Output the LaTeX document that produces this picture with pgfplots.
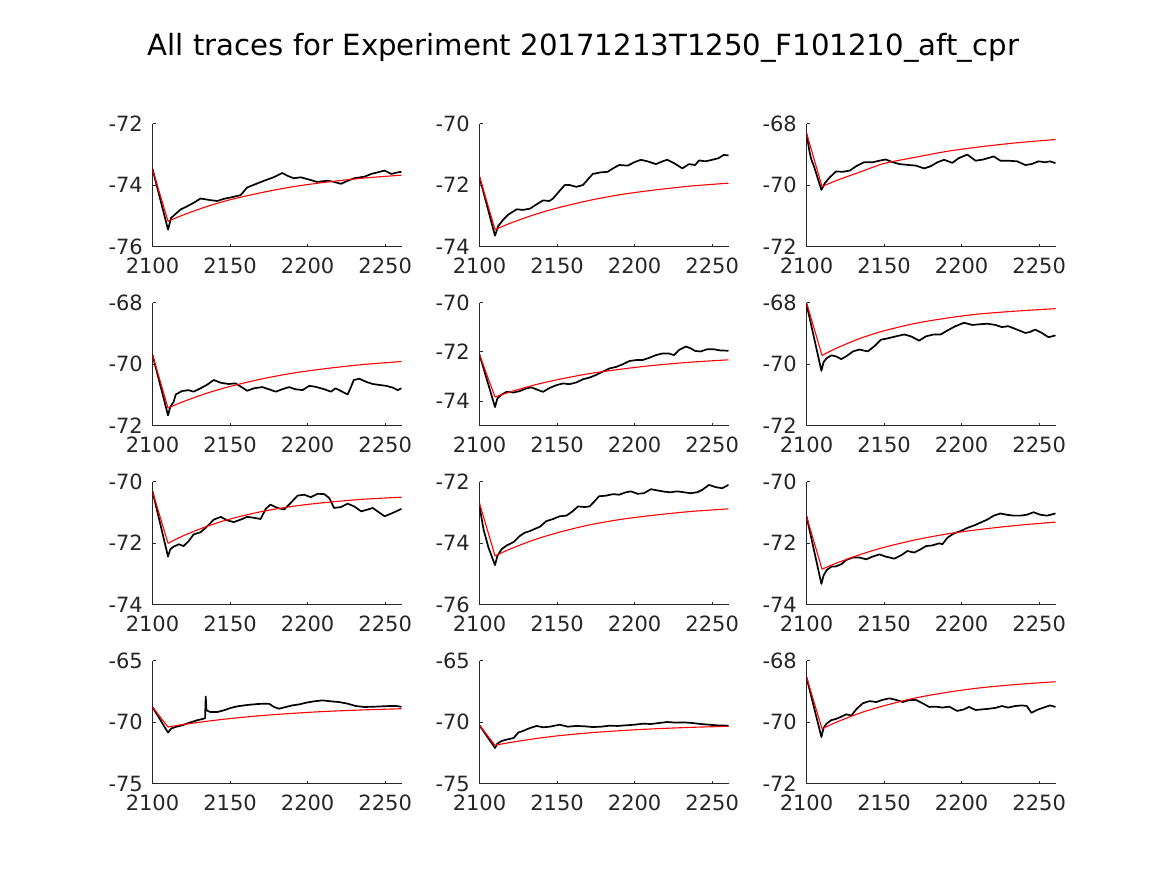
\documentclass[border=0pt]{standalone}
\usepackage{pgfplots}
\pgfplotsset{compat=1.18}
\usepackage{fontspec}
\setmainfont{DejaVu Sans}
\definecolor{axgray}{rgb}{0.15,0.15,0.15}
\pgfplotsset{
  panel/.style={
    scale only axis, width=124.5pt, height=61.5pt, anchor=south west,
    xmin=2100, xmax=2260.5,
    axis x line*=bottom, axis y line*=left,
    axis line style={-, color=axgray, line width=0.4pt},
    xtick={2100,2150,2200,2250},
    tick align=inside, major tick length=1.5pt,
    tick style={color=axgray, line width=0.4pt},
    ticklabel style={font=\fontsize{10.5}{12}\selectfont, text=axgray},
    xticklabel style={yshift=-2.0pt},
    yticklabel style={xshift=-1.3pt},
    /pgf/number format/assume math mode=true,
    /pgf/number format/1000 sep={},
  },
  trace/.style={black, line width=0.85pt, line join=round},
  fit/.style={red, line width=0.55pt},
  fitc/.style={red, line width=0.55pt, smooth},
}
\begin{document}
\begin{tikzpicture}
\path[use as bounding box] (0,0) rectangle (583.5pt,437.5pt);
\node[anchor=base, font=\fontsize{14.6}{17}\selectfont, text=black] at (291.75pt,409.5pt) {All traces for Experiment 20171213T1250\_F101210\_aft\_cpr};

% ---------- Row 1 ----------
\begin{axis}[panel, at={(76.25pt,314.25pt)}, ymin=-76, ymax=-72, ytick={-76,-74,-72}]
\addplot[trace] coordinates {(2100,-73.48) (2110,-75.45) (2112,-75.07) (2114,-74.98) (2118,-74.80) (2122,-74.70) (2126.5,-74.58) (2131,-74.44) (2137,-74.49) (2141.7,-74.52) (2146,-74.45) (2150,-74.41) (2156.8,-74.33) (2161,-74.08) (2165,-74.00) (2172,-73.86) (2178,-73.75) (2183.7,-73.61) (2187,-73.70) (2191,-73.78) (2195.6,-73.75) (2200,-73.81) (2206,-73.90) (2213,-73.86) (2217,-73.90) (2221.5,-73.96) (2226,-73.86) (2230,-73.78) (2236.6,-73.73) (2241,-73.64) (2245,-73.59) (2249.6,-73.53) (2254,-73.64) (2258,-73.59) (2260.5,-73.57)};
\addplot[fit] coordinates {(2100,-73.48) (2110,-75.18)};
\addplot[fitc] coordinates {(2110,-75.18) (2120,-74.97) (2135,-74.70) (2150,-74.48) (2170,-74.25) (2190,-74.06) (2210,-73.92) (2235,-73.78) (2260.5,-73.68)};
\end{axis}

\begin{axis}[panel, at={(239.75pt,314.25pt)}, ymin=-74, ymax=-70, ytick={-74,-72,-70}]
\addplot[trace] coordinates {(2100,-71.75) (2110,-73.65) (2112,-73.34) (2115.4,-73.12) (2118.6,-72.96) (2124,-72.79) (2128,-72.81) (2132.5,-72.77) (2136.8,-72.63) (2141,-72.50) (2145,-72.52) (2147.4,-72.44) (2150.6,-72.25) (2155,-72.00) (2158,-72.00) (2162.4,-72.06) (2166.7,-72.00) (2170,-71.81) (2173,-71.64) (2178,-71.59) (2182.7,-71.57) (2186,-71.46) (2190,-71.35) (2195.5,-71.37) (2199.8,-71.26) (2204,-71.18) (2208.3,-71.23) (2213.7,-71.32) (2218,-71.23) (2221,-71.18) (2225.4,-71.29) (2230.8,-71.46) (2235,-71.32) (2239,-71.35) (2241.5,-71.20) (2245.7,-71.23) (2250,-71.18) (2254,-71.13) (2257.5,-71.02) (2260.5,-71.04)};
\addplot[fit] coordinates {(2100,-71.72) (2110,-73.45)};
\addplot[fitc] coordinates {(2110,-73.45) (2120,-73.24) (2135,-72.97) (2150,-72.75) (2170,-72.51) (2190,-72.32) (2210,-72.18) (2235,-72.04) (2260.5,-71.94)};
\end{axis}

\begin{axis}[panel, at={(403.25pt,314.25pt)}, ymin=-72, ymax=-68, ytick={-72,-70,-68}]
\addplot[trace] coordinates {(2100,-68.33) (2102,-68.93) (2103,-69.15) (2105,-69.42) (2109.6,-70.16) (2111.8,-69.94) (2115,-69.75) (2119,-69.56) (2123.5,-69.57) (2128,-69.53) (2132,-69.39) (2137,-69.26) (2142.7,-69.26) (2147,-69.21) (2151,-69.17) (2155.6,-69.26) (2160,-69.32) (2166,-69.35) (2170.5,-69.37) (2175.9,-69.46) (2180,-69.39) (2184.4,-69.26) (2188.7,-69.18) (2194,-69.28) (2198,-69.13) (2203.6,-69.01) (2209,-69.21) (2214,-69.17) (2220.7,-69.07) (2225,-69.21) (2230,-69.21) (2235.7,-69.23) (2241,-69.35) (2245,-69.32) (2249.6,-69.23) (2253.8,-69.26) (2257,-69.23) (2260.5,-69.29)};
\addplot[fit] coordinates {(2100,-68.31) (2110,-70.05)};
\addplot[fitc] coordinates {(2110,-70.05) (2120,-69.84) (2135,-69.57) (2150,-69.30) (2170,-69.10) (2190,-68.91) (2210,-68.77) (2235,-68.63) (2260.5,-68.52)};
\end{axis}

% ---------- Row 2 ----------
\begin{axis}[panel, at={(76.25pt,224.75pt)}, ymin=-72, ymax=-68, ytick={-72,-70,-68}]
\addplot[trace] coordinates {(2100,-69.70) (2110,-71.67) (2111.4,-71.40) (2113.6,-71.23) (2115,-70.99) (2119,-70.88) (2123.3,-70.85) (2126.5,-70.90) (2131,-70.79) (2135,-70.68) (2139.5,-70.52) (2144,-70.61) (2149,-70.65) (2153.5,-70.63) (2158,-70.77) (2161,-70.87) (2165.4,-70.79) (2170.8,-70.75) (2175,-70.82) (2179.4,-70.90) (2183.7,-70.82) (2188,-70.75) (2192,-70.82) (2196.7,-70.85) (2201,-70.71) (2205,-70.74) (2210.7,-70.82) (2215,-70.90) (2218,-70.79) (2221.5,-70.88) (2225.8,-70.99) (2228,-70.74) (2229.7,-70.52) (2233.4,-70.48) (2237.7,-70.58) (2242,-70.65) (2246,-70.68) (2250.6,-70.71) (2255,-70.77) (2258,-70.85) (2260.5,-70.79)};
\addplot[fit] coordinates {(2100,-69.70) (2110,-71.43)};
\addplot[fitc] coordinates {(2110,-71.43) (2120,-71.22) (2135,-70.95) (2150,-70.73) (2170,-70.49) (2190,-70.30) (2210,-70.16) (2235,-70.02) (2260.5,-69.92)};
\end{axis}

\begin{axis}[panel, at={(239.75pt,224.75pt)}, ymin=-75, ymax=-70, ytick={-74,-72,-70}]
\addplot[trace] coordinates {(2100,-72.12) (2110,-74.25) (2111.5,-73.90) (2114.3,-73.74) (2117.5,-73.63) (2122,-73.66) (2126,-73.60) (2130.3,-73.49) (2133.5,-73.45) (2137.8,-73.56) (2141,-73.63) (2145.3,-73.47) (2149.6,-73.36) (2153.8,-73.29) (2158,-73.32) (2162.4,-73.25) (2166.7,-73.12) (2171,-73.05) (2175,-72.95) (2179.5,-72.81) (2183.8,-72.68) (2188,-72.62) (2192,-72.52) (2196.6,-72.38) (2200.9,-72.34) (2205,-72.34) (2209.4,-72.25) (2213.7,-72.14) (2218,-72.07) (2222,-72.07) (2225.4,-72.14) (2228.6,-71.93) (2233,-71.79) (2236,-71.86) (2239,-71.97) (2242.5,-71.99) (2246.8,-71.90) (2251,-71.90) (2255.3,-71.95) (2260.5,-71.96)};
\addplot[fit] coordinates {(2100,-72.12) (2110,-73.84)};
\addplot[fitc] coordinates {(2110,-73.84) (2120,-73.63) (2135,-73.36) (2150,-73.14) (2170,-72.90) (2190,-72.72) (2210,-72.57) (2235,-72.43) (2260.5,-72.33)};
\end{axis}

\begin{axis}[panel, at={(403.25pt,224.75pt)}, ymin=-72, ymax=-68, ytick={-72,-70,-68}]
\addplot[trace] coordinates {(2100,-68.05) (2109.6,-70.22) (2111,-69.94) (2113,-69.81) (2116,-69.72) (2119,-69.75) (2122.4,-69.84) (2125.6,-69.75) (2130,-69.59) (2134,-69.53) (2139.5,-69.59) (2143.8,-69.42) (2148,-69.21) (2152,-69.17) (2157.7,-69.10) (2163,-69.04) (2167.3,-69.10) (2172.6,-69.24) (2177,-69.10) (2182,-69.04) (2186.5,-69.04) (2190.8,-68.91) (2196,-68.77) (2201.5,-68.66) (2207,-68.73) (2211,-68.71) (2216.5,-68.69) (2221.8,-68.73) (2226,-68.80) (2230,-68.77) (2235.7,-68.88) (2241,-68.99) (2244,-68.96) (2247.4,-68.88) (2251.7,-68.99) (2256,-69.13) (2260.5,-69.07)};
\addplot[fit] coordinates {(2100,-68.00) (2110,-69.72)};
\addplot[fitc] coordinates {(2110,-69.72) (2120,-69.47) (2135,-69.16) (2150,-68.92) (2170,-68.68) (2190,-68.51) (2210,-68.38) (2235,-68.28) (2260.5,-68.20)};
\end{axis}

% ---------- Row 3 ----------
\begin{axis}[panel, at={(76.25pt,135.25pt)}, ymin=-74, ymax=-70, ytick={-74,-72,-70}]
\addplot[trace] coordinates {(2100,-70.32) (2110,-72.44) (2111.5,-72.20) (2113.6,-72.12) (2117,-72.04) (2120,-72.10) (2123.3,-71.94) (2126.5,-71.72) (2131,-71.65) (2135,-71.47) (2139.5,-71.24) (2144,-71.15) (2148,-71.26) (2152.4,-71.32) (2156.8,-71.24) (2161,-71.15) (2165.4,-71.18) (2169.7,-71.22) (2173,-70.89) (2176,-70.75) (2180.5,-70.86) (2184.8,-70.91) (2189,-70.70) (2193.5,-70.46) (2197.8,-70.43) (2202,-70.51) (2206.4,-70.40) (2210.7,-70.41) (2214,-70.54) (2217,-70.86) (2221.5,-70.83) (2225.8,-70.72) (2230,-70.81) (2234.5,-70.97) (2238.8,-70.91) (2242,-70.86) (2245,-70.97) (2249.6,-71.13) (2254,-71.04) (2257,-70.97) (2260.5,-70.89)};
\addplot[fit] coordinates {(2100,-70.32) (2110,-72.01)};
\addplot[fitc] coordinates {(2110,-72.01) (2120,-71.76) (2135,-71.46) (2150,-71.22) (2170,-70.98) (2190,-70.81) (2210,-70.69) (2235,-70.58) (2260.5,-70.51)};
\end{axis}

\begin{axis}[panel, at={(239.75pt,135.25pt)}, ymin=-76, ymax=-72, ytick={-76,-74,-72}]
\addplot[trace] coordinates {(2100,-72.80) (2102.6,-73.56) (2105.8,-74.15) (2110,-74.72) (2111.5,-74.42) (2114.3,-74.20) (2117.5,-74.08) (2122,-73.97) (2126,-73.77) (2129,-73.67) (2132.5,-73.61) (2135.7,-73.54) (2139,-73.47) (2143,-73.29) (2147.4,-73.22) (2151.7,-73.13) (2156,-73.11) (2160,-72.97) (2163.5,-72.81) (2167.7,-72.83) (2171,-72.81) (2174,-72.65) (2177,-72.48) (2181.6,-72.46) (2186,-72.41) (2190,-72.43) (2194.4,-72.35) (2197.6,-72.32) (2202,-72.40) (2206,-72.38) (2210.5,-72.25) (2214.7,-72.29) (2219,-72.33) (2223,-72.35) (2227.6,-72.32) (2231.8,-72.35) (2236,-72.38) (2240.4,-72.35) (2243.6,-72.27) (2247.9,-72.11) (2252,-72.18) (2256.4,-72.22) (2260.5,-72.11)};
\addplot[fit] coordinates {(2100,-72.70) (2110,-74.42)};
\addplot[fitc] coordinates {(2110,-74.42) (2120,-74.19) (2135,-73.90) (2150,-73.67) (2170,-73.42) (2190,-73.24) (2210,-73.11) (2235,-72.98) (2260.5,-72.89)};
\end{axis}

\begin{axis}[panel, at={(403.25pt,135.25pt)}, ymin=-74, ymax=-70, ytick={-74,-72,-70}]
\addplot[trace] coordinates {(2100,-71.13) (2109.6,-73.33) (2111,-73.06) (2113,-72.88) (2116,-72.77) (2119,-72.76) (2122.4,-72.69) (2125.6,-72.55) (2130,-72.47) (2134,-72.47) (2138.5,-72.53) (2142.7,-72.44) (2147,-72.37) (2151,-72.44) (2156.6,-72.51) (2161,-72.40) (2165,-72.26) (2169.4,-72.31) (2173.7,-72.20) (2177,-72.10) (2181,-72.08) (2185.5,-72.01) (2187.6,-72.04) (2190.8,-71.83) (2195,-71.69) (2199.4,-71.61) (2203.6,-71.51) (2208,-71.43) (2212,-71.34) (2216.5,-71.24) (2220.7,-71.11) (2225,-71.04) (2229,-71.08) (2233.5,-71.11) (2237.8,-71.11) (2242,-71.08) (2246.4,-71.00) (2250.6,-71.08) (2255,-71.11) (2260.5,-71.04)};
\addplot[fit] coordinates {(2100,-71.13) (2110,-72.85)};
\addplot[fitc] coordinates {(2110,-72.85) (2120,-72.64) (2135,-72.37) (2150,-72.14) (2170,-71.90) (2190,-71.71) (2210,-71.57) (2235,-71.43) (2260.5,-71.32)};
\end{axis}

% ---------- Row 4 ----------
\begin{axis}[panel, at={(76.25pt,45.75pt)}, ymin=-75, ymax=-65, ytick={-75,-70,-65}]
\addplot[trace] coordinates {(2100,-68.78) (2110,-70.86) (2112,-70.54) (2114.7,-70.41) (2119,-70.27) (2123.3,-70.08) (2128.7,-69.86) (2133,-69.73) (2133.9,-69.68) (2134.3,-67.92) (2134.8,-69.05) (2137.3,-69.19) (2141.7,-69.19) (2146,-69.05) (2150.3,-68.86) (2154.6,-68.73) (2159,-68.65) (2163,-68.59) (2167.5,-68.54) (2171.9,-68.51) (2175,-68.51) (2178.4,-68.78) (2181.6,-68.92) (2186,-68.78) (2190,-68.65) (2194.5,-68.57) (2199,-68.43) (2204,-68.32) (2209.6,-68.24) (2215,-68.32) (2220.4,-68.38) (2225.8,-68.51) (2231,-68.70) (2236.6,-68.78) (2242,-68.76) (2247.4,-68.73) (2252.8,-68.70) (2257,-68.70) (2260.5,-68.76)};
\addplot[fit] coordinates {(2100,-68.78) (2110,-70.41)};
\addplot[fitc] coordinates {(2110,-70.41) (2120,-70.20) (2135,-69.94) (2150,-69.72) (2170,-69.48) (2190,-69.30) (2210,-69.15) (2235,-69.02) (2260.5,-68.92)};
\end{axis}

\begin{axis}[panel, at={(239.75pt,45.75pt)}, ymin=-75, ymax=-65, ytick={-75,-70,-65}]
\addplot[trace] coordinates {(2100,-70.27) (2110,-72.11) (2111.5,-71.76) (2114.3,-71.54) (2117.5,-71.43) (2122,-71.30) (2125,-70.86) (2128,-70.73) (2132.5,-70.49) (2136.8,-70.32) (2141,-70.43) (2145.3,-70.38) (2151.7,-70.22) (2157,-70.38) (2162.4,-70.32) (2167.7,-70.35) (2173,-70.41) (2178.4,-70.38) (2183.8,-70.30) (2189,-70.32) (2194.4,-70.27) (2199.8,-70.22) (2205,-70.14) (2210.5,-70.16) (2215.8,-70.08) (2221,-70.00) (2226.5,-70.05) (2232,-70.03) (2237,-70.08) (2242.5,-70.16) (2248,-70.22) (2253,-70.27) (2260.5,-70.30)};
\addplot[fit] coordinates {(2100,-70.27) (2110,-71.89)};
\addplot[fitc] coordinates {(2110,-71.89) (2120,-71.66) (2135,-71.37) (2150,-71.13) (2170,-70.89) (2190,-70.71) (2210,-70.57) (2235,-70.44) (2260.5,-70.35)};
\end{axis}

\begin{axis}[panel, at={(403.25pt,45.75pt)}, ymin=-72, ymax=-68, ytick={-72,-70,-68}]
\addplot[trace] coordinates {(2100,-68.55) (2109.6,-70.49) (2111,-70.19) (2113,-70.05) (2116,-69.94) (2119,-69.90) (2122.4,-69.83) (2125.6,-69.75) (2129,-69.79) (2132,-69.59) (2136.3,-69.39) (2140.6,-69.32) (2145,-69.35) (2149,-69.28) (2153.4,-69.23) (2157.7,-69.28) (2162,-69.35) (2166,-69.29) (2170.5,-69.28) (2174.8,-69.39) (2179,-69.51) (2183.3,-69.50) (2187.6,-69.53) (2192,-69.50) (2197,-69.64) (2201.5,-69.59) (2204.7,-69.51) (2209,-69.61) (2213,-69.59) (2217.5,-69.57) (2221.8,-69.54) (2226,-69.48) (2230,-69.53) (2234.6,-69.48) (2239,-69.46) (2242,-69.48) (2245,-69.70) (2248.5,-69.61) (2252.8,-69.53) (2257,-69.46) (2260.5,-69.51)};
\addplot[fit] coordinates {(2100,-68.53) (2110,-70.22)};
\addplot[fitc] coordinates {(2110,-70.22) (2120,-69.99) (2135,-69.70) (2150,-69.47) (2170,-69.22) (2190,-69.04) (2210,-68.90) (2235,-68.78) (2260.5,-68.69)};
\end{axis}
\end{tikzpicture}
\end{document}
